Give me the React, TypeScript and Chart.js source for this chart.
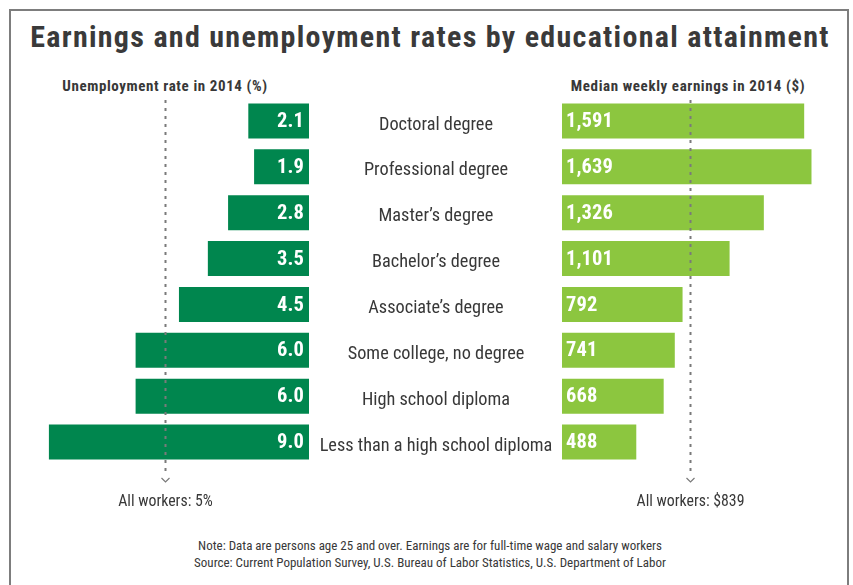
import React, { useEffect, useRef } from "react";
import { Chart, registerables } from "chart.js";

Chart.register(...registerables);

const categories = [
  "Doctoral degree",
  "Professional degree",
  "Master’s degree",
  "Bachelor’s degree",
  "Associate’s degree",
  "Some college, no degree",
  "High school diploma",
  "Less than a high school diploma",
];
const unemploymentRates = [2.1, 1.9, 2.8, 3.5, 4.5, 6.0, 6.0, 9.0];
const weeklyEarnings = [1591, 1639, 1326, 1101, 792, 741, 668, 488];
const allWorkersRate = 5;
const allWorkersEarnings = 839;

const COND = '"Roboto Condensed", "DejaVu Sans Condensed", sans-serif';
const DARK_GREEN = "#00864e";
const LIGHT_GREEN = "#8cc63f";
const TEXT = "#383838";

function refLinePlugin(value: number, label: string) {
  return {
    id: "refLine",
    afterDatasetsDraw(chart: any) {
      const { ctx, chartArea, scales } = chart;
      const x = Math.round(scales.x.getPixelForValue(value)) + 0.5;
      ctx.save();
      ctx.strokeStyle = "#7a7a7a";
      ctx.lineWidth = 2;
      ctx.setLineDash([3, 5]);
      ctx.beginPath();
      ctx.moveTo(x, chartArea.top + 2);
      ctx.lineTo(x, chartArea.bottom + 9);
      ctx.stroke();
      ctx.setLineDash([]);
      ctx.lineWidth = 1.2;
      ctx.beginPath();
      ctx.moveTo(x - 4, chartArea.bottom + 13);
      ctx.lineTo(x, chartArea.bottom + 17);
      ctx.lineTo(x + 4, chartArea.bottom + 13);
      ctx.stroke();
      ctx.fillStyle = TEXT;
      ctx.font = `15.8px ${COND}`;
      ctx.textAlign = "center";
      ctx.textBaseline = "middle";
      ctx.fillText(label, x, chartArea.bottom + 37);
      ctx.restore();
    },
  };
}

function valueLabelPlugin(side: "left" | "right", fmt: (v: number) => string) {
  return {
    id: "valueLabels",
    afterDatasetsDraw(chart: any) {
      const { ctx } = chart;
      const meta = chart.getDatasetMeta(0);
      const data = chart.data.datasets[0].data as number[];
      ctx.save();
      ctx.fillStyle = "#ffffff";
      ctx.letterSpacing = "0.1px";
      ctx.font = `bold 20.5px ${COND}`;
      ctx.textBaseline = "middle";
      meta.data.forEach((bar: any, i: number) => {
        const { base, y } = bar.getProps(["base", "y"], true);
        if (side === "left") {
          ctx.textAlign = "right";
          ctx.fillText(fmt(data[i]), base - 5, y + 1);
        } else {
          ctx.textAlign = "left";
          ctx.fillText(fmt(data[i]), base + 4, y + 1);
        }
      });
      ctx.restore();
    },
  };
}

// Category labels centred in the band left of the earnings bars, placed via the y scale
const categoryLabelPlugin = {
  id: "categoryLabels",
  afterDraw(chart: any) {
    const { ctx, chartArea, scales } = chart;
    const yScale = scales.y;
    const cx = chartArea.left - 126;
    ctx.save();
    ctx.fillStyle = TEXT;
    ctx.font = `18.3px ${COND}`;
    ctx.textAlign = "center";
    ctx.textBaseline = "middle";
    (chart.data.labels as string[]).forEach((label, i) => {
      ctx.fillText(label, cx, yScale.getPixelForValue(i) + 4);
    });
    ctx.restore();
  },
};

function UnemploymentChart() {
  const ref = useRef<HTMLCanvasElement>(null);
  useEffect(() => {
    if (!ref.current) return;
    const chart = new Chart(ref.current, {
      type: "bar",
      data: {
        labels: categories,
        datasets: [
          {
            data: unemploymentRates,
            backgroundColor: DARK_GREEN,
            barPercentage: 0.765,
            categoryPercentage: 1,
          },
        ],
      },
      options: {
        indexAxis: "y",
        animation: false,
        responsive: false,
        maintainAspectRatio: false,
        layout: { padding: { top: 25, bottom: 53, left: 0, right: 0 } },
        plugins: { legend: { display: false }, tooltip: { enabled: false } },
        scales: {
          x: { type: "linear", reverse: true, min: 0, max: 10, display: false },
          y: { type: "category", display: false },
        },
      },
      plugins: [
        valueLabelPlugin("left", (v) => v.toFixed(1)),
        refLinePlugin(allWorkersRate, `All workers: ${allWorkersRate}%`),
      ],
    } as any);
    return () => chart.destroy();
  }, []);
  return (
    <canvas
      ref={ref}
      width={289}
      height={445}
      style={{ position: "absolute", left: 20, top: 73, width: 289, height: 445 }}
    />
  );
}

function EarningsChart() {
  const ref = useRef<HTMLCanvasElement>(null);
  useEffect(() => {
    if (!ref.current) return;
    const chart = new Chart(ref.current, {
      type: "bar",
      data: {
        labels: categories,
        datasets: [
          {
            data: weeklyEarnings,
            backgroundColor: LIGHT_GREEN,
            barPercentage: 0.765,
            categoryPercentage: 1,
          },
        ],
      },
      options: {
        indexAxis: "y",
        animation: false,
        responsive: false,
        maintainAspectRatio: false,
        layout: { padding: { top: 25, bottom: 53, left: 252, right: 0 } },
        plugins: { legend: { display: false }, tooltip: { enabled: false } },
        scales: {
          x: { type: "linear", min: 0, max: 1800, display: false },
          y: { type: "category", display: false },
        },
      },
      plugins: [
        valueLabelPlugin("right", (v) => v.toLocaleString("en-US")),
        refLinePlugin(allWorkersEarnings, `All workers: $${allWorkersEarnings}`),
        categoryLabelPlugin,
      ],
    } as any);
    return () => chart.destroy();
  }, []);
  return (
    <canvas
      ref={ref}
      width={526}
      height={445}
      style={{ position: "absolute", left: 310, top: 73, width: 526, height: 445 }}
    />
  );
}

export default function App() {
  const abs: React.CSSProperties = { position: "absolute", whiteSpace: "nowrap" };
  return (
    <div
      style={{
        position: "absolute",
        left: 0,
        top: 0,
        width: 853,
        height: 585,
        background: "#ffffff",
        overflow: "hidden",
        fontFamily: COND,
        color: TEXT,
      }}
    >
      <div
        style={{
          position: "absolute",
          left: 9,
          top: 9,
          width: 836,
          height: 640,
          borderTop: "2px solid #7d7d7d",
          borderLeft: "2px solid #7d7d7d",
          borderRight: "2px solid #7d7d7d",
        }}
      />
      <div
        style={{
          ...abs,
          left: 0,
          width: 860,
          top: 17,
          textAlign: "center",
          fontSize: 30,
          fontWeight: "bold",
          letterSpacing: "1.3px",
          lineHeight: "40px",
          color: "#3a3a3a",
        }}
      >
        Earnings and unemployment rates by educational attainment
      </div>
      <div
        style={{
          ...abs,
          left: 40,
          width: 250,
          top: 77,
          textAlign: "center",
          fontSize: 15,
          fontWeight: "bold",
          letterSpacing: "0.6px",
          lineHeight: "18px",
        }}
      >
        Unemployment rate in 2014 (%)
      </div>
      <div
        style={{
          ...abs,
          left: 563,
          width: 250,
          top: 77,
          textAlign: "center",
          fontSize: 15,
          fontWeight: "bold",
          letterSpacing: "0.6px",
          lineHeight: "18px",
        }}
      >
        Median weekly earnings in 2014 ($)
      </div>
      <UnemploymentChart />
      <EarningsChart />
      <div
        style={{
          ...abs,
          left: 0,
          width: 860,
          top: 537,
          textAlign: "center",
          fontSize: 13,
          lineHeight: "17px",
        }}
      >
        Note: Data are persons age 25 and over. Earnings are for full-time wage and salary workers
        <br />
        Source: Current Population Survey, U.S. Bureau of Labor Statistics, U.S. Department of Labor
      </div>
    </div>
  );
}
